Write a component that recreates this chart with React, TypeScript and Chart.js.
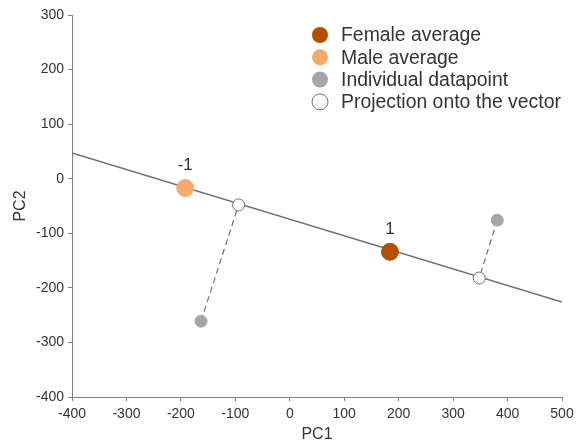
import React, { useEffect, useRef } from "react";
import { Chart, registerables } from "chart.js";

Chart.register(...registerables);

// Direction vector through the two group averages
const vectorX = [-400, 500];
const vectorY = [47, -226];

const femaleAvgX = [184];
const femaleAvgY = [-134];
const maleAvgX = [-192];
const maleAvgY = [-17];

const individualX = [-163, 381];
const individualY = [-261, -76];
const projectionX = [-94, 348];
const projectionY = [-48, -182];

const avgLabels = ["1", "-1"];

const xTicks = [-400, -300, -200, -100, 0, 100, 200, 300, 400, 500];
const yTicks = [-400, -300, -200, -100, 0, 100, 200, 300];

const legendItems = [
  { text: "Female average", fill: "#b35000", stroke: "#b35000" },
  { text: "Male average", fill: "#f5a96a", stroke: "#f5a96a" },
  { text: "Individual datapoint", fill: "#a6a6a6", stroke: "#a6a6a6" },
  { text: "Projection onto the vector", fill: "#ffffff", stroke: "#707070" },
];

const FONT = "'Liberation Sans', Arial, Helvetica, sans-serif";
const AXIS_COLOR = "#808080";
const TEXT_COLOR = "#333333";

const pts = (xs: number[], ys: number[]) => xs.map((x, i) => ({ x, y: ys[i] }));

export default function App() {
  const canvasRef = useRef<HTMLCanvasElement | null>(null);

  useEffect(() => {
    if (!canvasRef.current) return;

    const connectors = individualX.map((_, i) => ({
      type: "scatter" as const,
      data: [
        { x: individualX[i], y: individualY[i] },
        { x: projectionX[i], y: projectionY[i] },
      ],
      showLine: true,
      borderColor: "#707070",
      borderWidth: 1.2,
      borderDash: [6, 4],
      pointRadius: 0,
      order: 5,
    }));

    const avgLabelPlugin = {
      id: "avgLabels",
      afterDatasetsDraw(chart: any) {
        const { ctx, scales } = chart;
        const spots = [
          { x: femaleAvgX[0], y: femaleAvgY[0], t: avgLabels[0] },
          { x: maleAvgX[0], y: maleAvgY[0], t: avgLabels[1] },
        ];
        ctx.save();
        ctx.fillStyle = TEXT_COLOR;
        ctx.font = `17px ${FONT}`;
        ctx.textAlign = "center";
        ctx.textBaseline = "bottom";
        spots.forEach((s) => {
          const px = scales.x.getPixelForValue(s.x);
          const py = scales.y.getPixelForValue(s.y);
          ctx.fillText(s.t, px, py - 14);
        });
        ctx.restore();
      },
    };

    const legendPlugin = {
      id: "cornerLegend",
      afterDraw(chart: any) {
        const { ctx } = chart;
        const x0 = 320;
        const y0 = 35;
        const step = 22.3;
        ctx.save();
        ctx.font = `19.4px ${FONT}`;
        ctx.textBaseline = "middle";
        ctx.textAlign = "left";
        legendItems.forEach((item, i) => {
          const y = y0 + i * step;
          ctx.beginPath();
          ctx.arc(x0, y, 8, 0, Math.PI * 2);
          ctx.fillStyle = item.fill;
          ctx.fill();
          if (item.fill === "#ffffff") {
            ctx.lineWidth = 1;
            ctx.strokeStyle = item.stroke;
            ctx.stroke();
          }
          ctx.fillStyle = TEXT_COLOR;
          ctx.fillText(item.text, 341, y + 1);
        });
        ctx.restore();
      },
    };

    const chart = new Chart(canvasRef.current, {
      type: "scatter",
      data: {
        datasets: [
          {
            label: "Vector",
            data: pts(vectorX, vectorY),
            showLine: true,
            borderColor: "#707070",
            borderWidth: 1.5,
            pointRadius: 0,
            order: 6,
          },
          ...connectors,
          {
            label: "Individual datapoint",
            data: pts(individualX, individualY),
            pointRadius: 6,
            pointBackgroundColor: "#a6a6a6",
            pointBorderColor: "#a6a6a6",
            order: 3,
          },
          {
            label: "Projection onto the vector",
            data: pts(projectionX, projectionY),
            pointRadius: 6,
            pointBackgroundColor: "#ffffff",
            pointBorderColor: "#707070",
            pointBorderWidth: 1,
            order: 2,
          },
          {
            label: "Female average",
            data: pts(femaleAvgX, femaleAvgY),
            pointRadius: 8.5,
            pointBackgroundColor: "#b35000",
            pointBorderColor: "#b35000",
            order: 1,
          },
          {
            label: "Male average",
            data: pts(maleAvgX, maleAvgY),
            pointRadius: 8.5,
            pointBackgroundColor: "#f5a96a",
            pointBorderColor: "#f5a96a",
            order: 1,
          },
        ],
      },
      options: {
        responsive: false,
        animation: false,
        layout: { padding: { top: 15, right: 14, left: 0, bottom: 0 } },
        plugins: {
          legend: { display: false },
          tooltip: { enabled: false },
        },
        scales: {
          x: {
            type: "linear",
            min: -400,
            max: 500,
            afterBuildTicks: (scale: any) => {
              scale.ticks = xTicks.map((v) => ({ value: v }));
            },
            afterFit: (scale: any) => {
              scale.height = 46;
              scale.paddingRight = 0;
              scale.paddingLeft = 0;
            },
            grid: {
              display: true,
              drawOnChartArea: false,
              drawTicks: true,
              tickLength: 4,
              color: AXIS_COLOR,
            },
            border: { display: true, color: AXIS_COLOR, width: 1 },
            ticks: {
              color: TEXT_COLOR,
              font: { family: FONT, size: 14 },
              padding: 5,
              maxRotation: 0,
            },
            title: {
              display: true,
              text: "PC1",
              color: TEXT_COLOR,
              font: { family: FONT, size: 16 },
              padding: { top: 0, bottom: -1 },
            },
          },
          y: {
            type: "linear",
            min: -400,
            max: 300,
            afterBuildTicks: (scale: any) => {
              scale.ticks = yTicks.map((v) => ({ value: v }));
            },
            afterFit: (scale: any) => {
              scale.width = 72;
              scale.paddingTop = 0;
              scale.paddingBottom = 0;
            },
            grid: {
              display: true,
              drawOnChartArea: false,
              drawTicks: true,
              tickLength: 4,
              color: AXIS_COLOR,
            },
            border: { display: true, color: AXIS_COLOR, width: 1 },
            ticks: {
              color: TEXT_COLOR,
              font: { family: FONT, size: 14 },
              padding: 4,
            },
            title: {
              display: true,
              text: "PC2",
              color: TEXT_COLOR,
              font: { family: FONT, size: 16 },
              padding: { top: 11, bottom: 0 },
            },
          },
        },
      },
      plugins: [avgLabelPlugin, legendPlugin],
    } as any);

    return () => chart.destroy();
  }, []);

  return (
    <div style={{ position: "absolute", left: 0, top: 0, width: 576, height: 443, background: "#ffffff" }}>
      <canvas ref={canvasRef} width={576} height={443} style={{ width: 576, height: 443 }} />
    </div>
  );
}
